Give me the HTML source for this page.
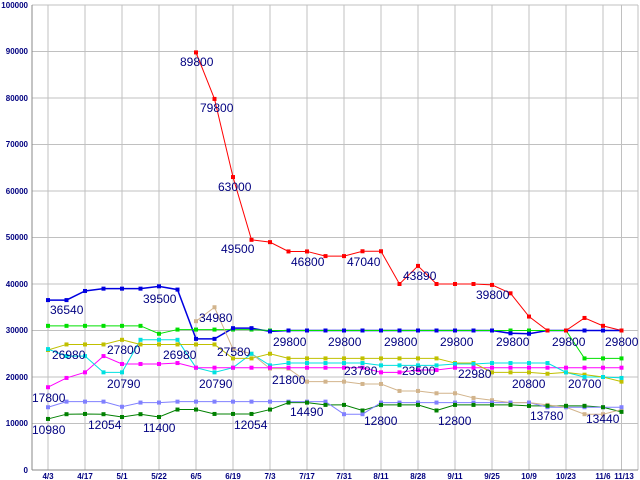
<!DOCTYPE html>
<html><head><meta charset="utf-8"><style>
html,body{margin:0;padding:0;background:#fff;width:640px;height:480px;overflow:hidden}
svg text{font-family:"Liberation Sans",sans-serif}
.ax{font-size:8px;font-weight:bold;fill:#000080}
.lb{font-size:12px;fill:#000080}
</style></head><body>
<svg id="s" width="640" height="480" xmlns="http://www.w3.org/2000/svg">
<rect width="640" height="480" fill="#fff"/>
<g id="grid" stroke="#c0c0c0" stroke-width="1"></g>
<g id="series"></g>
<g class="ax" text-anchor="end">
<text x="28" y="8">100000</text><text x="28" y="54">90000</text><text x="28" y="101">80000</text>
<text x="28" y="147">70000</text><text x="28" y="194">60000</text><text x="28" y="240">50000</text>
<text x="28" y="287">40000</text><text x="28" y="333">30000</text><text x="28" y="380">20000</text>
<text x="28" y="426">10000</text><text x="28" y="473">0</text>
</g>
<g class="ax" text-anchor="middle">
<text x="48" y="479">4/3</text><text x="85" y="479">4/17</text><text x="122" y="479">5/1</text>
<text x="159" y="479">5/22</text><text x="196" y="479">6/5</text><text x="233" y="479">6/19</text>
<text x="270" y="479">7/3</text><text x="307" y="479">7/17</text><text x="344" y="479">7/31</text>
<text x="381" y="479">8/11</text><text x="418" y="479">8/28</text><text x="455" y="479">9/11</text>
<text x="492" y="479">9/25</text><text x="529" y="479">10/9</text><text x="566" y="479">10/23</text>
<text x="603" y="479">11/6</text><text x="624" y="479">11/13</text>
</g>
<g class="lb">
<text x="50" y="314">36540</text><text x="143" y="303">39500</text>
<text x="180" y="66">89800</text><text x="200" y="112">79800</text><text x="218" y="191">63000</text>
<text x="221" y="253">49500</text><text x="291" y="266">46800</text><text x="347" y="266">47040</text>
<text x="403" y="280">43890</text><text x="476" y="299">39800</text>
<text x="273" y="346">29800</text><text x="328" y="346">29800</text><text x="384" y="346">29800</text>
<text x="440" y="346">29800</text><text x="496" y="346">29800</text><text x="552" y="346">29800</text>
<text x="605" y="346">29800</text>
<text x="199" y="322">34980</text><text x="217" y="356">27580</text>
<text x="52" y="359">26980</text><text x="107" y="354">27800</text><text x="163" y="359">26980</text>
<text x="107" y="388">20790</text><text x="199" y="388">20790</text><text x="272" y="384">21800</text>
<text x="344" y="375">23780</text><text x="402" y="375">23500</text><text x="458" y="378">22980</text>
<text x="512" y="388">20800</text><text x="568" y="388">20700</text>
<text x="32" y="402">17800</text><text x="32" y="434">10980</text><text x="88" y="429">12054</text>
<text x="143" y="432">11400</text><text x="234" y="429">12054</text><text x="290" y="416">14490</text>
<text x="364" y="425">12800</text><text x="438" y="425">12800</text><text x="530" y="420">13780</text>
<text x="586" y="423">13440</text>
</g>
</svg>
<script>
var NS="http://www.w3.org/2000/svg";
function X(i){return 48+18.5*i}
function Y(v){return 470-v*0.00465}
var g=document.getElementById("grid");
function ln(p,x1,y1,x2,y2,c){var l=document.createElementNS(NS,"line");l.setAttribute("x1",x1);l.setAttribute("y1",y1);l.setAttribute("x2",x2);l.setAttribute("y2",y2);if(c)l.setAttribute("stroke",c);p.appendChild(l);}
for(var v=10000;v<=100000;v+=10000)ln(g,32,Y(v),638,Y(v));
for(var k=0;k<16;k++)ln(g,X(2*k),5,X(2*k),470);
ln(g,621.5,5,621.5,470);ln(g,638,5,638,470);
ln(g,32,5,32,470,"#888");ln(g,32,470,638,470,"#888");
var S=[
["#d2b48c",[null,null,null,null,null,null,null,null,32000,35000,26000,25000,21800,21800,19000,19000,19000,18500,18500,17000,17000,16500,16500,15500,15000,14500,14500,14000,13500,12000,12000,13000]],
["#8080ff",[13500,14700,14700,14700,13600,14500,14500,14700,14700,14700,14700,14700,14700,14700,14700,14700,12000,12000,14500,14500,14500,14500,14500,14500,14500,14500,14500,13500,13500,13500,13500,13500]],
["#008000",[10980,12000,12054,12000,11400,12000,11400,13000,13000,12054,12054,12054,13000,14490,14490,14000,14000,12800,14000,14000,14000,12800,14000,14000,14000,14000,13780,13800,13800,13800,13500,12500]],
["#c0c000",[25800,27000,27000,27000,28000,27000,27000,27000,27000,27000,24000,24000,25000,24000,24000,24000,24000,24000,24000,24000,24000,24000,23000,23000,21000,21000,21000,20700,21000,20500,20000,19000]],
["#00e0e0",[26000,24500,24500,21000,21000,28000,28000,28000,22000,21000,22000,25000,22500,23000,23000,23000,23000,23000,22500,22500,22500,22500,22800,22800,23000,23000,23000,23000,21000,20000,20000,19800]],
["#ff00ff",[17800,19800,21000,24500,22800,22800,22800,23000,22000,22000,22000,22000,22000,22000,22000,22000,22000,22000,21000,21000,21500,21500,22000,22000,22000,22000,22000,22000,22000,22000,22000,22000]],
["#00e000",[31000,31000,31000,31000,31000,31000,29300,30200,30200,30200,30200,30200,30000,30000,30000,30000,30000,30000,30000,30000,30000,30000,30000,30000,30000,30000,30000,30000,30000,24000,24000,24000]],
["#0000e0",[36540,36540,38500,39000,39000,39000,39500,38800,28200,28200,30500,30500,29800,30000,30000,30000,30000,30000,30000,30000,30000,30000,30000,30000,30000,29400,29300,30000,30000,30000,30000,30000]],
["#ff0000",[null,null,null,null,null,null,null,null,89800,79800,63000,49500,49000,47000,47000,46000,46000,47040,47040,40000,43890,40000,40000,40000,39800,38000,33000,30000,30000,32700,31000,30000]]
];
var sg=document.getElementById("series");
S.forEach(function(s){var pts=[];s[1].forEach(function(v,i){if(v==null)return;pts.push(X(i)+","+Y(v));
var r=document.createElementNS(NS,"rect");r.setAttribute("x",X(i)-2);r.setAttribute("y",Y(v)-2);r.setAttribute("width",4);r.setAttribute("height",4);r.setAttribute("fill",s[0]);sg.appendChild(r);});
var p=document.createElementNS(NS,"polyline");p.setAttribute("points",pts.join(" "));p.setAttribute("fill","none");p.setAttribute("stroke",s[0]);p.setAttribute("stroke-width",s[0]=="#0000e0"?1.5:1);sg.insertBefore(p,sg.firstChild);});
</script>
</body></html>
